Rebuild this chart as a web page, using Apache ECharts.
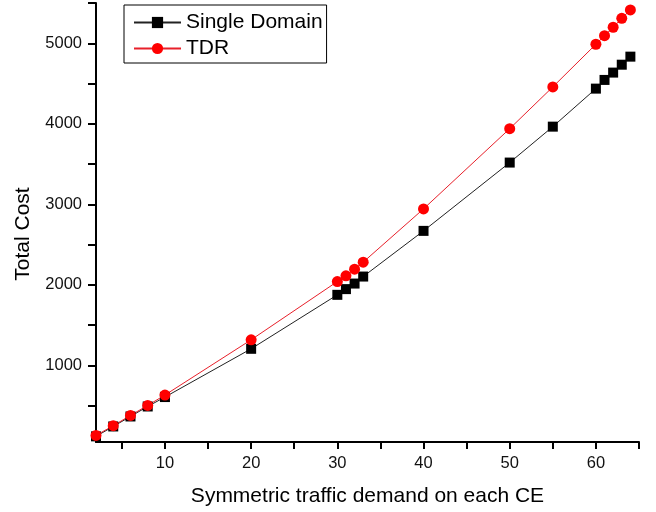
<!DOCTYPE html>
<html>
<head>
<meta charset="utf-8">
<script src="https://cdn.jsdelivr.net/npm/echarts@6/dist/echarts.min.js"></script>
<style>
html,body{margin:0;padding:0;background:#fff;}
#c{width:656px;height:512px;}
</style>
</head>
<body>
<div id="c"></div>
<script>
var demand = [2, 4, 6, 8, 10, 20, 30, 31, 32, 33, 40, 50, 55, 60, 61, 62, 63, 64];
var singleDomain = [120, 243, 367, 491, 608, 1207, 1877, 1948, 2017, 2104, 2671, 3519, 3965, 4437, 4545, 4636, 4734, 4834];
var tdr = [132, 252, 380, 504, 633, 1319, 2042, 2113, 2196, 2283, 2944, 3940, 4458, 4988, 5094, 5199, 5310, 5414];
var xTickLabels = [10, 20, 30, 40, 50, 60];
var xTickValues = [5, 10, 15, 20, 25, 30, 35, 40, 45, 50, 55, 60, 65];
var yTickLabels = [1000, 2000, 3000, 4000, 5000];
var yTickValues = [500, 1000, 1500, 2000, 2500, 3000, 3500, 4000, 4500, 5000, 5500];

function pairs(xs, ys) { return xs.map(function (x, i) { return [x, ys[i]]; }); }

var chart = echarts.init(document.getElementById('c'), null, {renderer: 'canvas'});
var font = 'Liberation Sans, Arial, sans-serif';
chart.setOption({
  animation: false,
  backgroundColor: '#fff',
  grid: {left: 96, right: 17, top: 3, bottom: 70, containLabel: false},
  legend: {
    left: 124, top: 5, orient: 'vertical',
    borderColor: '#000', borderWidth: 1, borderRadius: 0,
    padding: [7, 4, 4, 9],
    itemWidth: 47, itemHeight: 14, itemGap: 5,
    textStyle: {fontFamily: font, fontSize: 21, color: '#000'},
    data: ['Single Domain', 'TDR']
  },
  xAxis: {
    type: 'value', min: 2, max: 65, splitNumber: 13,
    name: 'Symmetric traffic demand on each CE',
    nameLocation: 'middle', nameGap: 44,
    nameTextStyle: {fontFamily: font, fontSize: 21, color: '#000'},
    axisLine: {show: true, onZero: false, lineStyle: {color: '#000', width: 2}},
    axisTick: {show: true, length: 7, lineStyle: {color: '#000', width: 2}, customValues: xTickValues},
    axisLabel: {fontFamily: font, fontSize: 16.5, color: '#111', margin: 13, customValues: xTickLabels,
      formatter: function (v) { return String(v); }},
    splitLine: {show: false}
  },
  yAxis: {
    type: 'value', min: 50, max: 5500, splitNumber: 11,
    axisLine: {show: true, onZero: false, lineStyle: {color: '#000', width: 2}},
    axisTick: {show: true, length: 8, lineStyle: {color: '#000', width: 2}, customValues: yTickValues},
    axisLabel: {fontFamily: font, fontSize: 16.5, color: '#111', margin: 14, customValues: yTickLabels,
      formatter: function (v) { return String(v); }},
    splitLine: {show: false}
  },
  graphic: [{
    type: 'text', x: 23, y: 234, rotation: Math.PI / 2,
    style: {text: 'Total Cost', font: '21px ' + font, fill: '#000', textAlign: 'center', textVerticalAlign: 'middle'}
  }],
  series: [
    {
      name: 'Single Domain', type: 'line', data: pairs(demand, singleDomain),
      symbol: 'rect', symbolSize: 10,
      lineStyle: {color: '#222', width: 1},
      itemStyle: {color: '#000'}
    },
    {
      name: 'TDR', type: 'line', data: pairs(demand, tdr),
      symbol: 'circle', symbolSize: 11,
      lineStyle: {color: '#e8202a', width: 1},
      itemStyle: {color: '#ff0000'}
    }
  ]
});
</script>
</body>
</html>
